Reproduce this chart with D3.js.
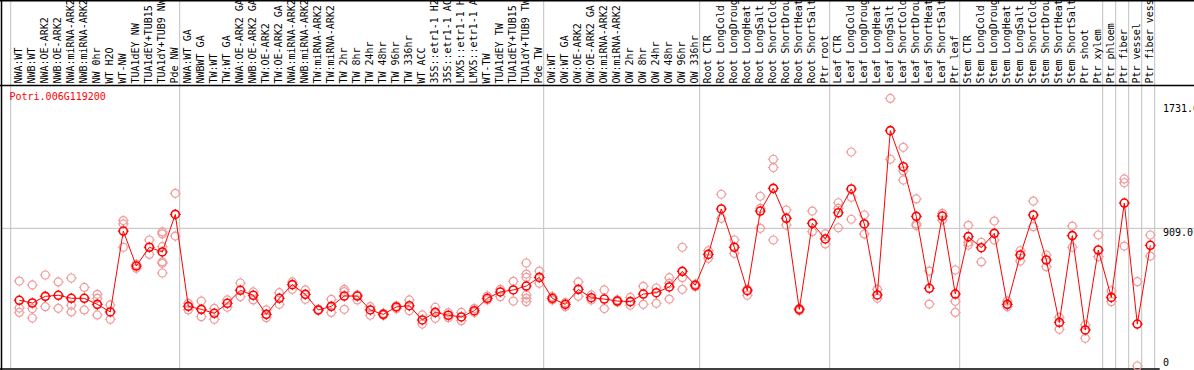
<!DOCTYPE html>
<html>
<head>
<meta charset="utf-8">
<script src="https://cdn.jsdelivr.net/npm/d3@7"></script>
<style>
  html, body { margin: 0; padding: 0; background: #fff; }
  svg { display: block; }
  text { font-family: "DejaVu Sans Mono", monospace; font-size: 10px; }
</style>
</head>
<body>
<div id="wrapper"></div>
<script>
// 1. Data
const geneId = "Potri.006G119200"

const samples = [
  "NWA:WT", "NWB:WT", "NWA:OE-ARK2", "NWB:OE-ARK2", "NWA:miRNA-ARK2", "NWB:miRNA-ARK2",
  "NW 0hr", "WT H2O", "WT-NW", "TUA1dEY NW", "TUA1dEY+TUB15 NW", "TUA1dY+TUB9 NW", "Pde NW",
  "NWA:WT GA", "NWBWT GA", "TW:WT", "TW:WT GA", "NWA:OE-ARK2 GA", "NWB:OE-ARK2 GA",
  "TW:OE-ARK2", "TW:OE-ARK2 GA", "NWA:miRNA-ARK2", "NWB:miRNA-ARK2", "TW:miRNA-ARK2",
  "TW:miRNA-ARK2", "TW 2hr", "TW 8hr", "TW 24hr", "TW 48hr", "TW 96hr", "TW 336hr", "WT ACC",
  "35S::etr1-1 H2O", "35S::etr1-1 ACC", "LMX5::etr1-1 H2O", "LMX5::etr1-1 ACC", "WT-TW",
  "TUA1dEY TW", "TUA1dEY+TUB15 TW", "TUA1dY+TUB9 TW", "Pde TW",
  "OW:WT", "OW:WT GA", "OW:OE-ARK2", "OW:OE-ARK2 GA", "OW:miRNA-ARK2", "OW:miRNA-ARK2",
  "OW 2hr", "OW 8hr", "OW 24hr", "OW 48hr", "OW 96hr", "OW 336hr",
  "Root CTR", "Root LongCold", "Root LongDrought", "Root LongHeat", "Root LongSalt",
  "Root ShortCold", "Root ShortDrought", "Root ShortHeat", "Root ShortSalt", "Ptr root",
  "Leaf CTR", "Leaf LongCold", "Leaf LongDrought", "Leaf LongHeat", "Leaf LongSalt",
  "Leaf ShortCold", "Leaf ShortDrought", "Leaf ShortHeat", "Leaf ShortSalt", "Ptr leaf",
  "Stem CTR", "Stem LongCold", "Stem LongDrought", "Stem LongHeat", "Stem LongSalt",
  "Stem ShortCold", "Stem ShortDrought", "Stem ShortHeat", "Stem ShortSalt", "Ptr shoot",
  "Ptr xylem", "Ptr phloem", "Ptr fiber", "Ptr vessel", "Ptr fiber vessel",
]

// number of samples in each experiment block (separated by grey lines)
const groupSizes = [13, 28, 12, 10, 10, 11, 1, 1, 1, 1]

const meanExpr = [
  434, 416, 460, 467, 447, 447, 407, 357, 891, 660, 784, 753, 1001,
  394, 374, 348, 414, 500, 467, 341, 447, 537, 473, 370, 394, 462, 462, 370, 341, 390,
  398, 304, 354, 335, 324, 365, 447, 489, 502, 528, 585,
  447, 407, 506, 451, 442, 429, 425, 475, 484, 522, 625, 533,
  737, 1037, 784, 497, 1023, 1173, 975, 374, 942, 839,
  1012, 1169, 938, 469, 1554, 1316, 988, 513, 990, 475,
  854, 781, 876, 407, 733, 997, 700, 288, 861, 238, 766,
  453, 1076, 277, 797,
]

const replicateExpr = [
  [561, 383, 354], [535, 379, 317], [601, 392], [555, 381], [581, 401, 357], [519, 370],
  [473, 447, 337], [403, 308], [960, 938, 784], [671, 645], [832, 737],
  [885, 872, 788, 687, 678, 614], [1140, 858],
  [414, 370], [429, 326], [381, 308], [436, 388], [548, 458], [489, 436], [370, 319],
  [484, 407], [555, 506], [502, 440], [374, 366], [440, 354], [506, 491, 374], [469, 436],
  [392, 335], [348, 335], [396, 379], [436, 365], [337, 277], [388, 315], [352, 319],
  [354, 299], [379, 354], [462, 436], [506, 458], [559, 429],
  [680, 607, 585, 469, 447, 425], [627, 546],
  [458, 436], [418, 392], [555, 460], [469, 436], [502, 379], [436, 423], [453, 401],
  [526, 407], [515, 414], [583, 546, 442], [784, 583, 506], [540, 524],
  [761, 711], [1134, 975], [832, 744], [506, 467], [1121, 1041, 909], [1365, 1310, 832],
  [1030, 931], [381, 365], [1023, 887], [872, 806],
  [1078, 1041, 913], [1413, 1114, 969], [997, 872], [506, 447], [1767, 1365],
  [1444, 1288, 1228], [1103, 938, 927], [627, 409], [1008, 964], [634, 427, 354],
  [929, 817, 799], [817, 687], [957, 832], [429, 392], [761, 693], [1089, 920],
  [733, 656], [321, 242], [924, 784], [271, 183], [865, 722],
  [497, 425], [1235, 1210, 792], [557, 0], [865, 726],
]

const yTicks = [0, 909.0, 1731.6]
const yTickLabels = ["0", "909.0", "1731.6"]

// 2. Dimensions
const dimensions = {
  width: 1194,
  height: 370,
  plotLeft: 10.7,
  colWidth: 13,
  labelBottom: 85.5,
  plotBottom: 369,
}

// 3. Draw canvas
const wrapper = d3
  .select("#wrapper")
  .append("svg")
  .attr("width", dimensions.width)
  .attr("height", dimensions.height)

// 4. Scales
const xScale = d3
  .scaleBand()
  .domain(d3.range(samples.length))
  .range([dimensions.plotLeft, dimensions.plotLeft + samples.length * dimensions.colWidth])
const pointX = i => xScale(i) + 8.6

const yScale = d3.scaleLinear().domain([0, 1731.6]).range([366, 103.75])

// 5. Peripherals (grid + frame)
const boundaries = [0, ...d3.cumsum(groupSizes)]
wrapper
  .append("g")
  .selectAll("line")
  .data(boundaries)
  .join("line")
  .attr("x1", d => xScale(d) ?? xScale.range()[1])
  .attr("x2", d => xScale(d) ?? xScale.range()[1])
  .attr("y1", 0)
  .attr("y2", dimensions.plotBottom)
  .attr("stroke", "#c0c0c0")
  .attr("stroke-width", 1)

wrapper
  .append("line")
  .attr("x1", 1)
  .attr("x2", dimensions.width)
  .attr("y1", yScale(yTicks[1]))
  .attr("y2", yScale(yTicks[1]))
  .attr("stroke", "#c0c0c0")

const frame = wrapper.append("g").attr("stroke", "#000").attr("stroke-width", 1.5)
frame.append("line").attr("x1", 1.5).attr("x2", 1.5).attr("y1", 0).attr("y2", dimensions.height)
frame.append("line").attr("x1", 0).attr("x2", dimensions.width).attr("y1", 0.75).attr("y2", 0.75)
frame
  .append("line")
  .attr("x1", 0)
  .attr("x2", dimensions.width)
  .attr("y1", dimensions.labelBottom)
  .attr("y2", dimensions.labelBottom)
frame
  .append("line")
  .attr("x1", 0)
  .attr("x2", xScale.range()[1] + 5)
  .attr("y1", dimensions.plotBottom)
  .attr("y2", dimensions.plotBottom)

// sample labels, rotated (long ones run off the top like the original)
wrapper
  .append("g")
  .selectAll("text")
  .data(samples)
  .join("text")
  .attr("transform", (d, i) => `translate(${xScale(i) + 10.8}, 83.5) rotate(-90)`)
  .attr("fill", "#000")
  .text(d => d)

// y tick labels
wrapper
  .append("g")
  .selectAll("text")
  .data(yTicks)
  .join("text")
  .attr("x", 1163)
  .attr("y", d => (d === 0 ? yScale(d) : yScale(d) + 8))
  .attr("fill", "#000")
  .text((d, i) => yTickLabels[i])

wrapper
  .append("text")
  .attr("x", 9.5)
  .attr("y", 100)
  .attr("fill", "#ff0000")
  .text(geneId)

// 6. Data marks
function drawMarker(sel, color, width) {
  const r = 4
  sel
    .append("circle")
    .attr("r", r)
    .attr("fill", "none")
    .attr("stroke", color)
    .attr("stroke-width", width)
  sel
    .selectAll("line.nub")
    .data([[0, -1], [0, 1], [-1, 0], [1, 0]])
    .join("line")
    .attr("class", "nub")
    .attr("x1", d => d[0] * r)
    .attr("y1", d => d[1] * r)
    .attr("x2", d => d[0] * (r + 1.5))
    .attr("y2", d => d[1] * (r + 1.5))
    .attr("stroke", color)
    .attr("stroke-width", 1)
}

const reps = replicateExpr.flatMap((vals, i) => vals.map(v => ({ i, v })))
wrapper
  .append("g")
  .selectAll("g")
  .data(reps)
  .join("g")
  .attr("transform", d => `translate(${pointX(d.i)}, ${yScale(d.v)})`)
  .call(drawMarker, "#f09c9c", 1.2)

wrapper
  .append("g")
  .selectAll("g")
  .data(meanExpr)
  .join("g")
  .attr("transform", (d, i) => `translate(${pointX(i)}, ${yScale(d)})`)
  .call(drawMarker, "#ff0000", 1.6)

const line = d3
  .line()
  .x((d, i) => pointX(i))
  .y(d => yScale(d))
wrapper
  .append("path")
  .datum(meanExpr)
  .attr("d", line)
  .attr("fill", "none")
  .attr("stroke", "#ff0000")
  .attr("stroke-width", 1)
</script>
</body>
</html>
